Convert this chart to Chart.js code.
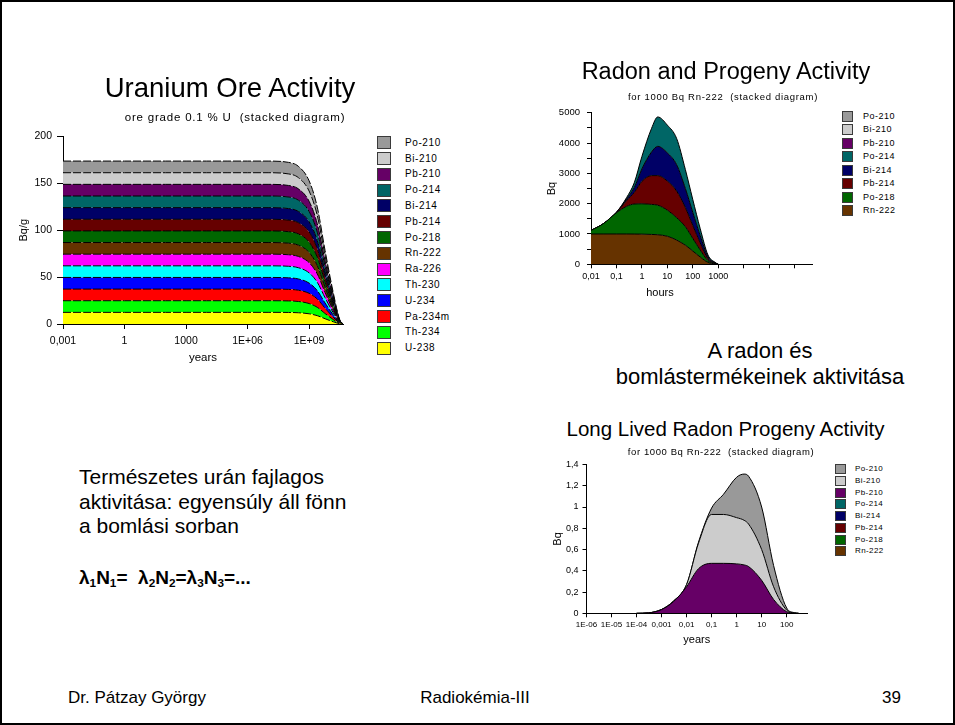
<!DOCTYPE html>
<html lang="hu">
<head>
<meta charset="utf-8">
<title>Radiokémia-III – 39</title>
<script src="https://cdn.jsdelivr.net/npm/chart.js@4.4.1/dist/chart.umd.min.js"></script>
<style>
  html, body { margin: 0; padding: 0; background: #fff; }
  #slide { position: relative; width: 955px; height: 725px; overflow: hidden;
           font-family: "Liberation Sans", Arial, sans-serif; color: #000; }
  #frame { position: absolute; left: 0; top: 0; width: 951px; height: 721px; border: 2px solid #000; }
  .txt { position: absolute; white-space: nowrap; line-height: 1; }
  .txt sub { font-size: 0.62em; vertical-align: -0.28em; line-height: 0; }
  canvas { position: absolute; }
  .lg-box { position: absolute; box-sizing: border-box; border: 1px solid #3a3a3a; }
</style>
</head>
<body>
<div id="slide">
  <div id="frame"></div>
  <canvas id="oreChart"></canvas>
  <canvas id="radonChart"></canvas>
  <canvas id="longChart"></canvas>
</div>
<script>
const FONT = '"Liberation Sans", Arial, sans-serif';

// Colour of each member of the U-238 decay chain
const nuclideColors = {
  'U-238': '#ffff00', 'Th-234': '#00ff00', 'Pa-234m': '#ff0000', 'U-234': '#0000ff',
  'Th-230': '#00ffff', 'Ra-226': '#ff00ff', 'Rn-222': '#663300', 'Po-218': '#006600',
  'Pb-214': '#660000', 'Bi-214': '#000066', 'Po-214': '#006666', 'Pb-210': '#660066',
  'Bi-210': '#cccccc', 'Po-210': '#999999'
};

// ---- Uranium ore, 0.1 % U: every chain member in secular equilibrium (Bq/g) ----
const oreYears = [0.001, 0.01, 0.1, 1, 10, 100, 1e3, 1e4, 1e5, 1e6, 1e7, 1e8, 3e8, 1e9, 2.5e9, 6e9, 1.5e10, 3e10, 4.5e10];
const oreMemberBq = [12.4, 12.4, 12.4, 12.4, 12.4, 12.4, 12.4, 12.4, 12.4, 12.4, 12.4, 12.3, 12.0, 10.9, 8.9, 5.6, 2.4, 0.4, 0];
const oreChain = ['U-238', 'Th-234', 'Pa-234m', 'U-234', 'Th-230', 'Ra-226', 'Rn-222',
                  'Po-218', 'Pb-214', 'Bi-214', 'Po-214', 'Pb-210', 'Bi-210', 'Po-210'];
const oreXTicks = [0.001, 1, 1e3, 1e6, 1e9];
const oreXLabels = ['0,001', '1', '1000', '1E+06', '1E+09'];
const oreYTicks = [0, 50, 100, 150, 200];
const oreYLabels = ['0', '50', '100', '150', '200'];

// ---- Radon and short-lived progeny, for 1000 Bq Rn-222 (Bq) ----
const radonHours = [0.01, 0.03, 0.1, 0.25, 0.5, 1, 2.4, 4.2, 10, 23, 51, 99, 196, 396, 745, 1000];
const rn222Bq = [1000, 1000, 1000, 1000, 998, 995, 985, 975, 925, 800, 630, 440, 240, 62, 14, 0];
const po218Bq = [117, 335, 700, 910, 990, 1000, 990, 975, 860, 740, 610, 420, 230, 60, 13, 0];
const pb214Bq = [0, 0, 12, 190, 380, 740, 950, 975, 960, 880, 630, 430, 235, 61, 13, 0];
const bi214Bq = [0, 0, 2, 50, 160, 410, 780, 965, 930, 870, 630, 430, 235, 61, 13, 0];
const po214Bq = [0, 0, 2, 50, 160, 410, 780, 970, 915, 866, 625, 428, 232, 60, 12, 0];
const radonXTicks = [0.01, 0.1, 1, 10, 100, 1000, 1e4, 1e5, 1e6];
const radonXLabels = ['0,01', '0,1', '1', '10', '100', '1000', '', '', ''];
const radonYTicks = [0, 500, 1000, 1500, 2000, 2500, 3000, 3500, 4000, 4500, 5000];
const radonYLabels = ['0', '', '1000', '', '2000', '', '3000', '', '4000', '', '5000'];

// ---- Long-lived radon progeny, for 1000 Bq Rn-222 (Bq) ----
const longYears = [1e-4, 3e-4, 1e-3, 3e-3, 0.01, 0.03, 0.1, 0.3, 1, 2, 3, 10, 30, 100, 200, 300];
const pb210Bq = [0, 0.004, 0.035, 0.11, 0.25, 0.42, 0.47, 0.47, 0.465, 0.455, 0.44, 0.31, 0.13, 0.015, 0.002, 0];
const bi210Bq = [0, 0, 0.001, 0.005, 0.02, 0.24, 0.46, 0.46, 0.435, 0.42, 0.40, 0.29, 0.12, 0.015, 0.002, 0];
const po210Bq = [0, 0, 0, 0, 0, 0.01, 0.06, 0.19, 0.38, 0.435, 0.45, 0.40, 0.20, 0.02, 0.002, 0];
const longXTicks = [1e-6, 1e-5, 1e-4, 1e-3, 0.01, 0.1, 1, 10, 100];
const longXLabels = ['1E-06', '1E-05', '1E-04', '0,001', '0,01', '0,1', '1', '10', '100'];
const longYTicks = [0, 0.1, 0.2, 0.3, 0.4, 0.5, 0.6, 0.7, 0.8, 0.9, 1, 1.1, 1.2, 1.3, 1.4];
const longYLabels = ['0', '', '0,2', '', '0,4', '', '0,6', '', '0,8', '', '1', '', '1,2', '', '1,4'];

// Legend order (top to bottom) for the two radon diagrams
const progenyLegend = ['Po-210', 'Bi-210', 'Pb-210', 'Po-214', 'Bi-214', 'Pb-214', 'Po-218', 'Rn-222'];

const slide = document.getElementById('slide');

// Place a line of text by its baseline
function put(html, x, baseline, size, opt = {}) {
  const d = document.createElement('div');
  d.className = 'txt';
  d.innerHTML = html;
  d.style.fontSize = size + 'px';
  d.style.top = (baseline - 0.8465 * size) + 'px';
  if (opt.bold) d.style.fontWeight = 'bold';
  if (opt.ls) d.style.letterSpacing = opt.ls + 'px';
  if (opt.align === 'center') {
    d.style.left = (x - 400) + 'px'; d.style.width = '800px'; d.style.textAlign = 'center';
  } else if (opt.align === 'right') {
    d.style.left = (x - 800) + 'px'; d.style.width = '800px'; d.style.textAlign = 'right';
  } else {
    d.style.left = x + 'px';
  }
  slide.appendChild(d);
}

// Colour-box legend, one row per nuclide
function legend(names, s) {
  names.forEach((name, i) => {
    const cy = s.y + i * s.step;
    const b = document.createElement('div');
    b.className = 'lg-box';
    Object.assign(b.style, {
      left: s.boxX + 'px', top: (cy - s.boxH / 2) + 'px',
      width: s.boxW + 'px', height: s.boxH + 'px', background: nuclideColors[name]
    });
    slide.appendChild(b);
    const t = document.createElement('div');
    t.className = 'txt';
    t.textContent = name;
    Object.assign(t.style, {
      left: s.textX + 'px', top: (cy - 0.49 * s.size) + 'px',
      fontSize: s.size + 'px', letterSpacing: s.ls + 'px'
    });
    slide.appendChild(t);
  });
}

// Stacked area diagram on a logarithmic time axis
function stackedAreaChart(id, s) {
  const cv = document.getElementById(id);
  cv.width = s.box.w; cv.height = s.box.h;
  cv.style.left = s.box.x + 'px'; cv.style.top = s.box.y + 'px';
  const axisTitle = (t, pad) => t ? {
    display: true, text: t.text, color: '#000',
    font: { family: FONT, size: t.size }, padding: pad
  } : { display: false };
  return new Chart(cv, {
    type: 'line',
    data: {
      datasets: s.layers.map((layer, i) => ({
        label: layer.name,
        data: s.x.map((x, k) => ({ x, y: layer.values[k] })),
        backgroundColor: nuclideColors[layer.name],
        borderColor: '#000',
        borderWidth: 1,
        borderDash: s.dash || [],
        fill: i === 0 ? 'origin' : '-1',
        pointRadius: 0,
        cubicInterpolationMode: 'monotone'
      }))
    },
    options: {
      responsive: false, animation: false, events: [],
      layout: { padding: s.padding },
      plugins: { legend: { display: false }, tooltip: { enabled: false } },
      scales: {
        x: {
          type: 'logarithmic', min: s.xMin, max: s.xMax,
          afterBuildTicks: sc => { sc.ticks = s.xTicks.map(v => ({ value: v })); },
          afterFit: sc => { sc.height = s.xAxisH; },
          ticks: { autoSkip: false, maxRotation: 0, minRotation: 0, padding: s.xTickPad,
                   color: '#000', font: { family: FONT, size: s.xTickSize },
                   callback: (v, i) => s.xLabels[i] },
          grid: { drawOnChartArea: false, drawTicks: true, tickLength: s.xTickLen,
                  color: '#000', tickColor: '#000' },
          border: { display: true, color: '#000', width: 1 },
          title: axisTitle(s.xTitle, { top: 0, bottom: s.xTitle ? s.xTitle.pad : 0 })
        },
        y: {
          type: 'linear', stacked: true, min: 0, max: s.yMax,
          afterBuildTicks: sc => { sc.ticks = s.yTicks.map(v => ({ value: v })); },
          afterFit: sc => { sc.width = s.yAxisW; },
          ticks: { padding: s.yTickPad, color: '#000', font: { family: FONT, size: s.yTickSize },
                   callback: (v, i) => s.yLabels[i] },
          grid: { drawOnChartArea: false, drawTicks: true, tickLength: s.yTickLen,
                  color: '#000', tickColor: '#000' },
          border: { display: true, color: '#000', width: 1 },
          title: axisTitle(s.yTitle, { top: s.yTitle.pad, bottom: 0 })
        }
      }
    }
  });
}

// ---------- Uranium Ore Activity ----------
stackedAreaChart('oreChart', {
  box: { x: 12, y: 125, w: 340, h: 250 },
  padding: { left: 0, top: 10, right: 9, bottom: 0 },
  x: oreYears,
  layers: oreChain.map(name => ({ name, values: oreMemberBq })),
  dash: [8, 2],
  xMin: 0.001, xMax: 4.5e10, xTicks: oreXTicks, xLabels: oreXLabels,
  yMax: 200, yTicks: oreYTicks, yLabels: oreYLabels,
  xTickSize: 10.5, yTickSize: 10.5, xAxisH: 51, yAxisW: 51,
  xTickLen: 5, xTickPad: 6, yTickLen: 6, yTickPad: 5,
  xTitle: { text: 'years', size: 11.5, pad: 10 },
  yTitle: { text: 'Bq/g', size: 11, pad: 5 }
});
put('Uranium Ore Activity', 230, 97, 27.5, { align: 'center' });
put('ore grade 0.1 % U&nbsp; (stacked diagram)', 235, 122, 11.5, { align: 'center', ls: 0.8 });
legend(oreChain.slice().reverse(), { y: 142.7, step: 15.8, boxX: 377, boxW: 14, boxH: 13, textX: 405, size: 10, ls: 0.6 });

// ---------- Radon and Progeny Activity ----------
stackedAreaChart('radonChart', {
  box: { x: 540, y: 100, w: 280, h: 205 },
  padding: { left: 0, top: 10.7, right: 7.6, bottom: 0 },
  x: radonHours,
  layers: [
    { name: 'Rn-222', values: rn222Bq },
    { name: 'Po-218', values: po218Bq },
    { name: 'Pb-214', values: pb214Bq },
    { name: 'Bi-214', values: bi214Bq },
    { name: 'Po-214', values: po214Bq }
  ],
  xMin: 0.01, xMax: 5e6, xTicks: radonXTicks, xLabels: radonXLabels,
  yMax: 5000, yTicks: radonYTicks, yLabels: radonYLabels,
  xTickSize: 9, yTickSize: 9.5, xAxisH: 40.7, yAxisW: 51,
  xTickLen: 4, xTickPad: 2.5, yTickLen: 4, yTickPad: 7,
  yTitle: { text: 'Bq', size: 11, pad: 5 }
});
put('Radon and Progeny Activity', 726, 80, 23.5, { align: 'center' });
put('for 1000 Bq Rn-222&nbsp; (stacked diagram)', 723, 100.5, 9.5, { align: 'center', ls: 0.7 });
put('hours', 660, 296, 11, { align: 'center' });
legend(progenyLegend, { y: 116.3, step: 13.5, boxX: 842, boxW: 11, boxH: 11, textX: 863, size: 9, ls: 0.5 });

// ---------- Long Lived Radon Progeny Activity ----------
stackedAreaChart('longChart', {
  box: { x: 540, y: 455, w: 275, h: 200 },
  padding: { left: 0, top: 9.5, right: 8, bottom: 0 },
  x: longYears,
  layers: [
    { name: 'Pb-210', values: pb210Bq },
    { name: 'Bi-210', values: bi210Bq },
    { name: 'Po-210', values: po210Bq }
  ],
  xMin: 1e-6, xMax: 650, xTicks: longXTicks, xLabels: longXLabels,
  yMax: 1.4, yTicks: longYTicks, yLabels: longYLabels,
  xTickSize: 8, yTickSize: 9, xAxisH: 41.7, yAxisW: 46.5,
  xTickLen: 4, xTickPad: 2.8, yTickLen: 4, yTickPad: 4,
  xTitle: { text: 'years', size: 11, pad: 8 },
  yTitle: { text: 'Bq', size: 11, pad: 11.5 }
});
put('Long Lived Radon Progeny Activity', 725.5, 436, 20.5, { align: 'center' });
put('for 1000 Bq Rn-222&nbsp; (stacked diagram)', 721, 455, 9.5, { align: 'center', ls: 0.6 });
legend(progenyLegend, { y: 469, step: 11.75, boxX: 835, boxW: 10.7, boxH: 10, textX: 855, size: 8, ls: 0.4 });

// ---------- Slide text ----------
put('A radon és', 760, 359, 22, { align: 'center' });
put('bomlástermékeinek aktivitása', 760, 385, 22, { align: 'center' });
put('Természetes urán fajlagos', 79, 484, 21);
put('aktivitása: egyensúly áll fönn', 79, 508.5, 21);
put('a bomlási sorban', 79, 533, 21);
put('λ<sub>1</sub>N<sub>1</sub>= &nbsp;λ<sub>2</sub>N<sub>2</sub>=λ<sub>3</sub>N<sub>3</sub>=...', 79, 584, 19, { bold: true });
put('Dr. Pátzay György', 68, 703, 17);
put('Radiokémia-III', 475, 703, 17, { align: 'center' });
put('39', 901, 703, 17, { align: 'right' });
</script>
</body>
</html>
